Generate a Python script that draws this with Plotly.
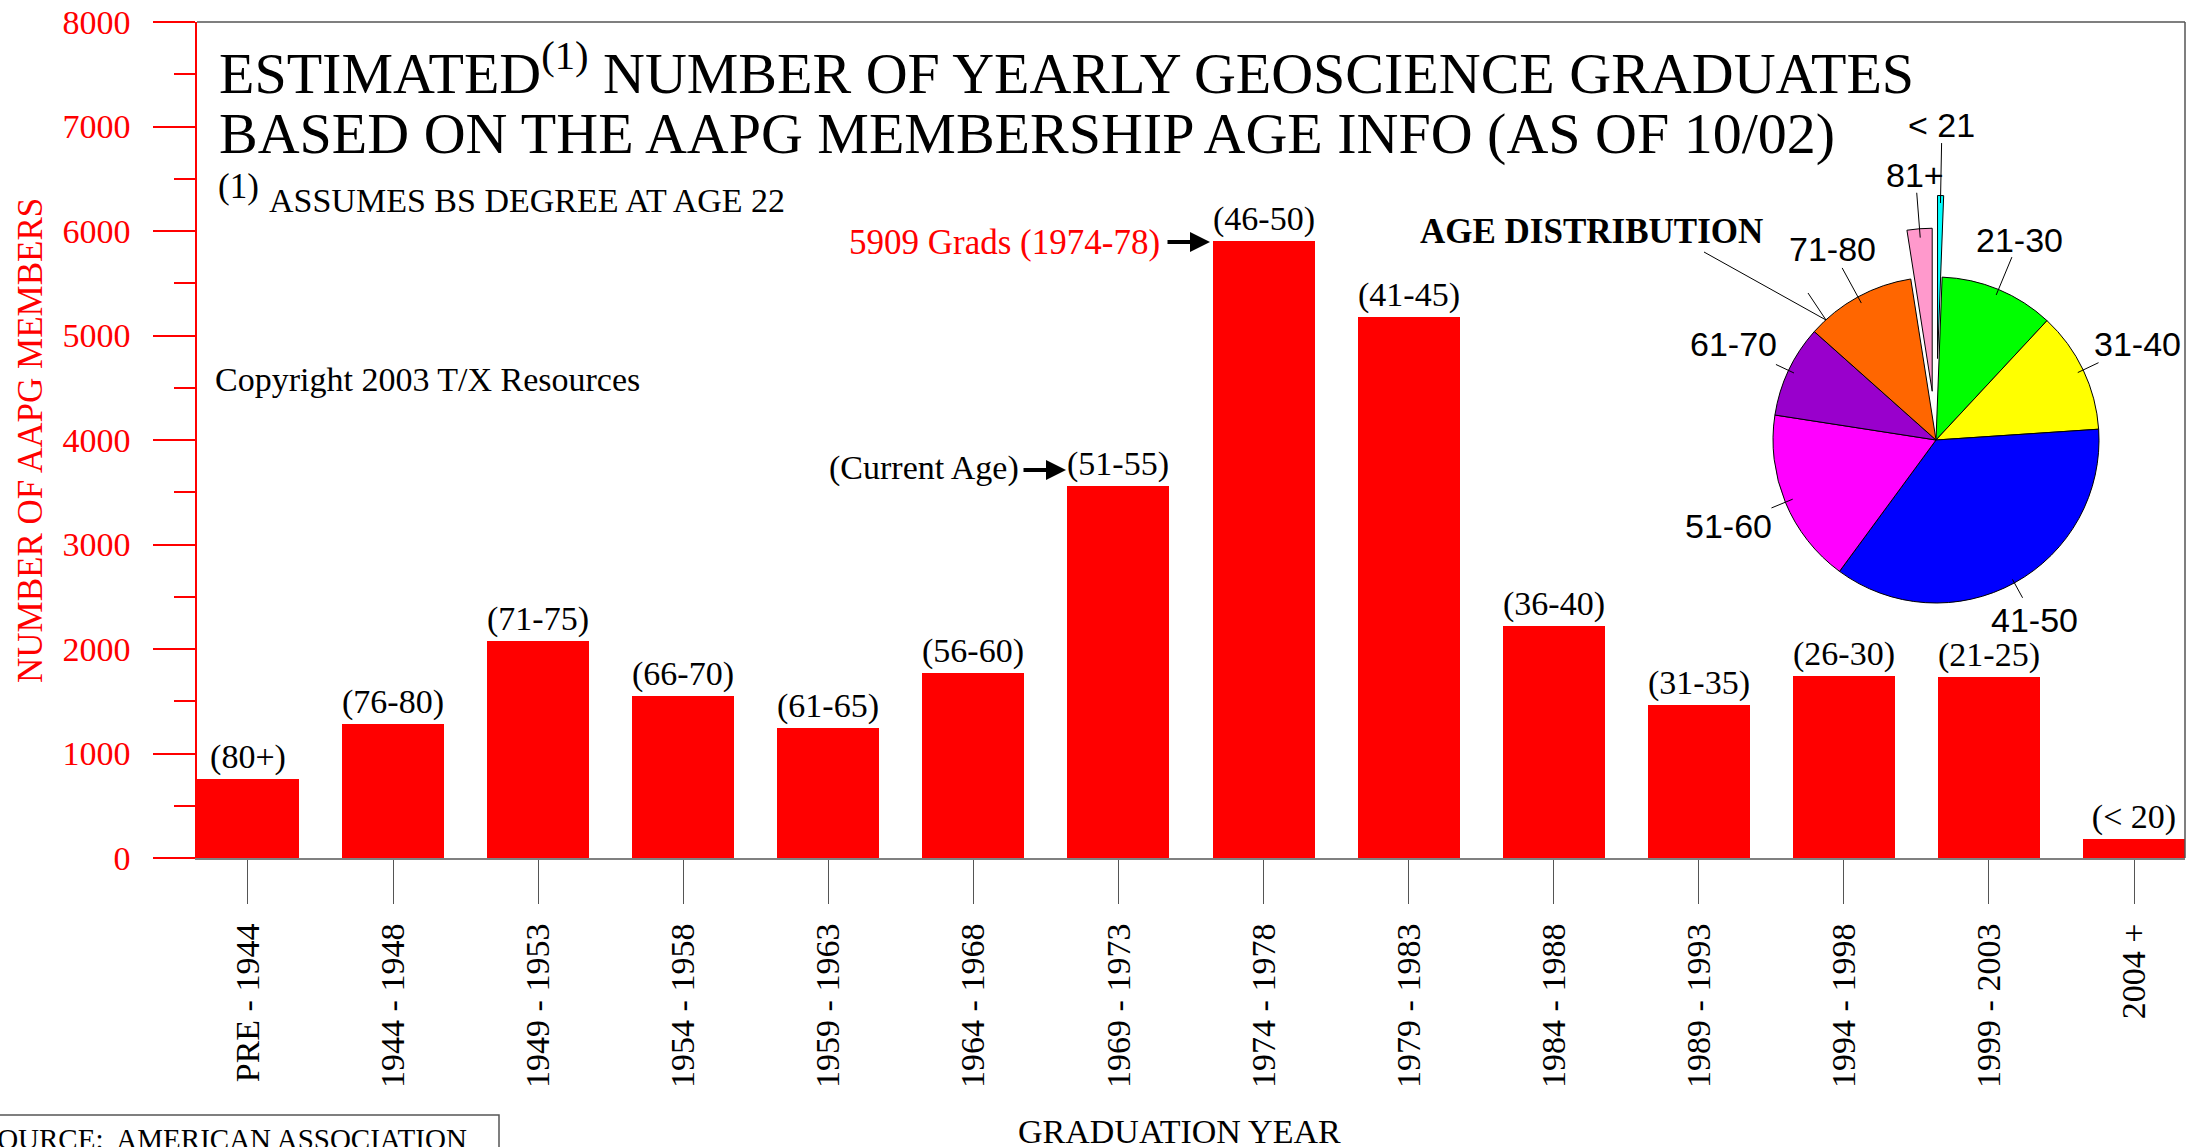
import math
import plotly.graph_objects as go

# ---------------- data ----------------
grad_years = ["PRE - 1944", "1944 - 1948", "1949 - 1953", "1954 - 1958", "1959 - 1963",
              "1964 - 1968", "1969 - 1973", "1974 - 1978", "1979 - 1983", "1984 - 1988",
              "1989 - 1993", "1994 - 1998", "1999 - 2003", "2004 +"]
members = [760, 1280, 2077, 1554, 1248, 1767, 3562, 5909, 5179, 2224, 1465, 1739, 1735, 184]
current_ages = ["(80+)", "(76-80)", "(71-75)", "(66-70)", "(61-65)", "(56-60)", "(51-55)",
                "(46-50)", "(41-45)", "(36-40)", "(31-35)", "(26-30)", "(21-25)", "(< 20)"]

pie_labels = ["< 21", "21-30", "31-40", "41-50", "51-60", "61-70", "71-80", "81+"]
pie_values = [184, 3474, 3689, 11088, 5329, 2802, 3357, 760]
pie_colors = ["#00FFFF", "#00FF00", "#FFFF00", "#0000FF", "#FF00FF", "#9900CC", "#FF6600", "#FF99CC"]
pie_pull = [0.5, 0, 0, 0, 0, 0, 0, 0.3]

y_ticks = [0, 1000, 2000, 3000, 4000, 5000, 6000, 7000, 8000]

# ---------------- geometry helpers ----------------
W, H = 2196, 1147
L, R, T, B = 197, 2185, 22, 858


def px(x):
    return (x - L) / (R - L)


def py(y):
    return (B - y) / (B - T)


SERIF = "Liberation Serif, Times New Roman, serif"
SANS = "Liberation Sans, Arial, sans-serif"
BW = 0.703

fig = go.Figure()

fig.add_trace(go.Bar(
    x=list(range(len(grad_years))), y=members, width=BW,
    marker=dict(color="#FF0000", line=dict(width=0)),
    text=current_ages, textposition="outside", textangle=0,
    constraintext="none", cliponaxis=False,
    textfont=dict(family=SERIF, size=34, color="black"),
    showlegend=False,
))

# pie geometry (pixels)
pc_x, pc_y, pr = 1936, 440, 163
max_pull = max(pie_pull)
half = pr * (1 + max_pull)
fig.add_trace(go.Pie(
    values=pie_values, labels=pie_labels, sort=False, direction="clockwise", rotation=0,
    pull=pie_pull, textinfo="none", showlegend=False,
    marker=dict(colors=pie_colors, line=dict(color="black", width=1)),
    domain=dict(x=[px(pc_x - half), px(pc_x + half)], y=[py(pc_y + half), py(pc_y - half)]),
))

annotations = []
shapes = []

# pie labels + leader lines computed from slice angles
label_r = [315, 217, 223, 205, 225, 224, 217, 266]
line_r = [(237, 297), (157, 198), (157, 180), (159, 180), (155, 178), (157, 177), (156, 196), (203, 248)]
tot = sum(pie_values)
acc = 0
for i, v in enumerate(pie_values):
    mid = (acc + v / 2) / tot * 2 * math.pi
    acc += v
    sx, sy = math.sin(mid), -math.cos(mid)
    lx, ly = pc_x + label_r[i] * sx, pc_y + label_r[i] * sy
    annotations.append(dict(x=px(lx), y=py(ly), xref="paper", yref="paper", text=pie_labels[i],
                            showarrow=False, xanchor="center", yanchor="middle",
                            font=dict(family=SANS, size=34, color="black")))
    r0, r1 = line_r[i]
    shapes.append(dict(type="line", xref="paper", yref="paper",
                       x0=px(pc_x + r0 * sx), y0=py(pc_y + r0 * sy),
                       x1=px(pc_x + r1 * sx), y1=py(pc_y + r1 * sy),
                       line=dict(color="black", width=1)))

# extra leader lines near "AGE DISTRIBUTION"
shapes.append(dict(type="line", xref="paper", yref="paper", x0=px(1704), y0=py(252), x1=px(1826), y1=py(320),
                   line=dict(color="black", width=1)))
shapes.append(dict(type="line", xref="paper", yref="paper", x0=px(1808), y0=py(293), x1=px(1826), y1=py(320),
                   line=dict(color="black", width=1)))

# frame top and right
shapes.append(dict(type="line", xref="paper", yref="paper", x0=0, y0=1, x1=1, y1=1,
                   line=dict(color="#555555", width=1.5)))
shapes.append(dict(type="line", xref="paper", yref="paper", x0=1, y0=0, x1=1, y1=1,
                   line=dict(color="#555555", width=1.5)))

# source box (cut off at bottom-left)
shapes.append(dict(type="rect", xref="paper", yref="paper", x0=px(-10), x1=px(499), y0=py(1200), y1=py(1115),
                   line=dict(color="#555555", width=1.5), fillcolor="rgba(0,0,0,0)"))

# titles and texts
annotations += [
    dict(x=px(217), y=py(69), text="ESTIMATED<sup>(1)</sup> NUMBER OF YEARLY GEOSCIENCE GRADUATES",
         xanchor="left", yanchor="middle", font=dict(family=SERIF, size=58, color="black")),
    dict(x=px(217), y=py(133), text="BASED ON THE AAPG MEMBERSHIP AGE INFO (AS OF 10/02)",
         xanchor="left", yanchor="middle", font=dict(family=SERIF, size=58, color="black")),
    dict(x=px(216), y=py(187), text="(1)", xanchor="left", yanchor="middle",
         font=dict(family=SERIF, size=35, color="black")),
    dict(x=px(267), y=py(201), text="ASSUMES BS DEGREE AT AGE 22", xanchor="left", yanchor="middle",
         font=dict(family=SERIF, size=34, color="black")),
    dict(x=px(213), y=py(379), text="Copyright 2003 T/X Resources", xanchor="left", yanchor="middle",
         font=dict(family=SERIF, size=34, color="black")),
    dict(x=px(1765), y=py(231), text="<b>AGE DISTRIBUTION</b>", xanchor="right", yanchor="middle",
         font=dict(family=SERIF, size=35, color="black")),
    dict(x=px(1162), y=py(243), text="5909 Grads (1974-78)", xanchor="right", yanchor="middle",
         font=dict(family=SERIF, size=35, color="#FF0000")),
    dict(x=px(1021), y=py(468), text="(Current Age)", xanchor="right", yanchor="middle",
         font=dict(family=SERIF, size=34, color="black")),
    dict(x=px(30), y=py(441), text="NUMBER OF AAPG MEMBERS", textangle=-90, xanchor="center", yanchor="middle",
         font=dict(family=SERIF, size=35, color="#FF0000")),
    dict(x=px(1179), y=py(1131), text="GRADUATION YEAR", xanchor="center", yanchor="middle",
         font=dict(family=SERIF, size=34, color="black")),
    dict(x=px(-21), y=py(1139), text="SOURCE:\u00a0 AMERICAN ASSOCIATION", xanchor="left", yanchor="middle",
         font=dict(family=SERIF, size=29, color="black")),
]
for a in annotations:
    a.setdefault("xref", "paper")
    a.setdefault("yref", "paper")
    a.setdefault("showarrow", False)

# arrows
annotations += [
    dict(x=px(1210), y=py(242), xref="paper", yref="paper", ax=-44, ay=0, text="", showarrow=True,
         arrowhead=2, arrowsize=1, arrowwidth=4, arrowcolor="black"),
    dict(x=px(1066), y=py(470), xref="paper", yref="paper", ax=-44, ay=0, text="", showarrow=True,
         arrowhead=2, arrowsize=1, arrowwidth=4, arrowcolor="black"),
]

fig.update_layout(
    width=W, height=H,
    margin=dict(l=L, r=W - R, t=T, b=H - B, pad=0, autoexpand=False),
    paper_bgcolor="white", plot_bgcolor="white",
    showlegend=False,
    bargap=0,
    annotations=annotations,
    shapes=shapes,
    xaxis=dict(
        range=[-BW / 2, len(grad_years) - 1 + BW / 2], automargin=False,
        tickmode="array", tickvals=list(range(len(grad_years))), ticktext=grad_years,
        tickangle=-90, ticks="outside", ticklen=44, tickwidth=1, tickcolor="#555555",
        ticklabelstandoff=6,
        tickfont=dict(family=SERIF, size=34, color="black"),
        showline=True, linecolor="#808080", linewidth=2,
        showgrid=False, zeroline=False,
    ),
    yaxis=dict(
        range=[0, 8000], tickmode="array", tickvals=y_ticks, automargin=False,
        ticks="outside", ticklen=42, tickwidth=1.5, tickcolor="#FF0000",
        minor=dict(dtick=500, ticks="outside", ticklen=21, tickwidth=1.5, tickcolor="#FF0000"),
        ticklabelstandoff=16,
        tickfont=dict(family=SERIF, size=34, color="#FF0000"),
        showline=True, linecolor="#FF0000", linewidth=1.5,
        showgrid=False, zeroline=False,
    ),
)

fig.write_html(
    "out.html",
    config={"displayModeBar": False},
    post_script="document.body.style.margin='0';document.body.style.overflow='hidden';",
)
